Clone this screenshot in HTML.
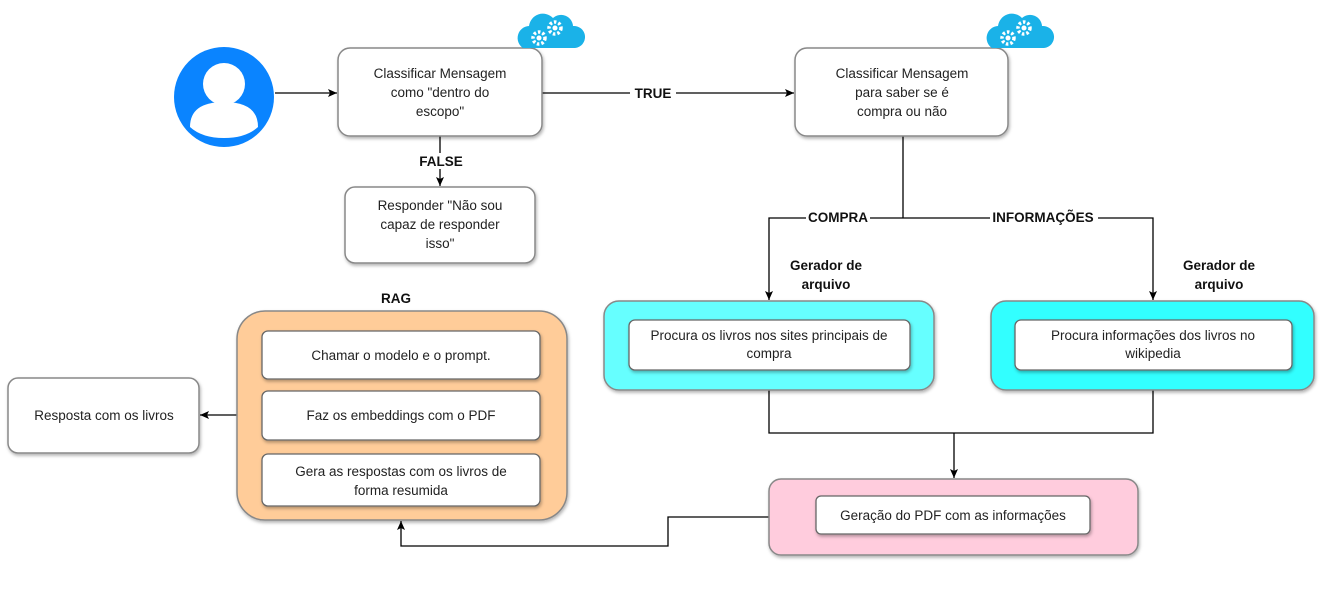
<!DOCTYPE html>
<html><head><meta charset="utf-8"><style>
body{margin:0;background:#fff;width:1321px;height:593px;overflow:hidden}
svg text{font-family:"Liberation Sans",sans-serif;font-size:13.5px;fill:#222}
.b{font-weight:bold;fill:#111}
</style></head><body>
<svg width="1321" height="593" viewBox="0 0 1321 593" xmlns="http://www.w3.org/2000/svg">
<defs>
<filter id="sh" x="-10%" y="-10%" width="130%" height="140%"><feDropShadow dx="1" dy="2" stdDeviation="1.5" flood-color="#000" flood-opacity="0.3"/></filter>
<marker id="ar" markerWidth="10" markerHeight="10" refX="9" refY="5" orient="auto" markerUnits="userSpaceOnUse"><path d="M0,1 L9,5 L0,9 L2,5 Z" fill="#000"/></marker>
<g id="cloud"><path d="M8,40 a12,12 0 0 1 6,-22 a14,14 0 0 1 24,-8 a12,12 0 0 1 20,8 a11,11 0 0 1 2,22 z" fill="#1ab2e8"/>
<circle cx="24" cy="30" r="6" fill="none" stroke="#fff" stroke-width="3.5" stroke-dasharray="2.5 2"/><circle cx="24" cy="30" r="2.5" fill="#fff"/>
<circle cx="40" cy="20" r="6" fill="none" stroke="#fff" stroke-width="3.5" stroke-dasharray="2.5 2"/><circle cx="40" cy="20" r="2.5" fill="#fff"/></g>
</defs>
<g stroke="#000" stroke-width="1.3" fill="none">
<line x1="275" y1="93" x2="337" y2="93" marker-end="url(#ar)"/>
<line x1="542" y1="93" x2="794" y2="93" marker-end="url(#ar)"/>
<line x1="440" y1="136" x2="440" y2="186" marker-end="url(#ar)"/>
<polyline points="903,136 903,218"/>
<polyline points="903,218 769,218 769,300" marker-end="url(#ar)"/>
<polyline points="903,218 1153,218 1153,300" marker-end="url(#ar)"/>
<polyline points="769,390 769,433 1153,433 1153,390"/>
<line x1="954" y1="433" x2="954" y2="478" marker-end="url(#ar)"/>
<polyline points="769,517 668,517 668,546 401,546 401,521" marker-end="url(#ar)"/>
<line x1="262" y1="415" x2="200" y2="415" marker-end="url(#ar)"/>
</g>
<g fill="#fff"><rect x="630" y="86" width="46" height="16"/><rect x="418" y="153" width="46" height="16"/><rect x="806" y="210" width="64" height="16"/><rect x="990" y="210" width="108" height="16"/></g>
<text class="b" x="653" y="98" text-anchor="middle" font-size="12">TRUE</text>
<text class="b" x="441" y="166" text-anchor="middle" font-size="12">FALSE</text>
<text class="b" x="838" y="222" text-anchor="middle" font-size="12">COMPRA</text>
<text class="b" x="1043" y="222" text-anchor="middle" font-size="12">INFORMAÇÕES</text>
<text class="b" x="826" y="270" text-anchor="middle">Gerador de</text><text class="b" x="826" y="289" text-anchor="middle">arquivo</text>
<text class="b" x="1219" y="270" text-anchor="middle">Gerador de</text><text class="b" x="1219" y="289" text-anchor="middle">arquivo</text>
<text class="b" x="396" y="303" text-anchor="middle">RAG</text>
<!-- user -->
<circle cx="224" cy="97" r="50" fill="#0a84ff"/>
<circle cx="224" cy="84" r="21" fill="#fff"/>
<path d="M190,127 q0,-25 34,-25 q34,0 34,25 q-12,11 -34,11 q-22,0 -34,-11z" fill="#fff"/>
<g stroke="#888" stroke-width="1.5" filter="url(#sh)">
<rect x="338" y="48" width="204" height="88" rx="12" fill="#fff"/>
<rect x="795" y="48" width="213" height="88" rx="12" fill="#fff"/>
<rect x="345" y="187" width="190" height="76" rx="10" fill="#fff"/>
<rect x="604" y="301" width="330" height="89" rx="15" fill="#66ffff"/>
<rect x="991" y="301" width="323" height="89" rx="15" fill="#33ffff"/>
<rect x="769" y="479" width="369" height="76" rx="12" fill="#ffccdd"/>
<rect x="237" y="311" width="330" height="209" rx="28" fill="#ffcc99"/>
<rect x="8" y="378" width="191" height="75" rx="10" fill="#fff"/>
</g>
<g stroke="#666" stroke-width="1.3" fill="#fff" filter="url(#sh)">
<rect x="629" y="320" width="281" height="50" rx="6"/>
<rect x="1015" y="320" width="277" height="50" rx="6"/>
<rect x="816" y="496" width="274" height="38" rx="5"/>
<rect x="262" y="331" width="278" height="48" rx="6"/>
<rect x="262" y="391" width="278" height="49" rx="6"/>
<rect x="262" y="454" width="278" height="52" rx="6"/>
</g>
<use href="#cloud" x="515" y="8"/>
<use href="#cloud" x="984" y="8"/>
<g text-anchor="middle">
<text x="440" y="78">Classificar Mensagem</text><text x="440" y="97">como "dentro do</text><text x="440" y="116">escopo"</text>
<text x="902" y="78">Classificar Mensagem</text><text x="902" y="97">para saber se é</text><text x="902" y="116">compra ou não</text>
<text x="440" y="210">Responder "Não sou</text><text x="440" y="229">capaz de responder</text><text x="440" y="248">isso"</text>
<text x="769" y="340">Procura os livros nos sites principais de</text><text x="769" y="358">compra</text>
<text x="1153" y="340">Procura informações dos livros no</text><text x="1153" y="358">wikipedia</text>
<text x="953" y="520">Geração do PDF com as informações</text>
<text x="401" y="360">Chamar o modelo e o prompt.</text>
<text x="401" y="420">Faz os embeddings com o PDF</text>
<text x="401" y="476">Gera as respostas com os livros de</text><text x="401" y="495">forma resumida</text>
<text x="104" y="420">Resposta com os livros</text>
</g>
</svg>
</body></html>
